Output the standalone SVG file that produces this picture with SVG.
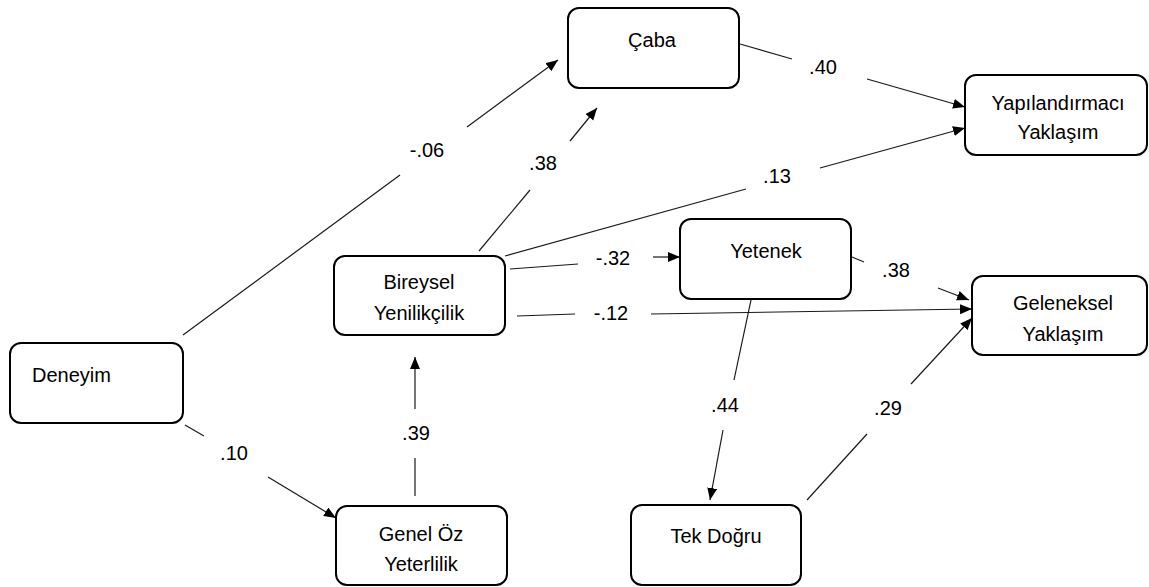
<svg xmlns="http://www.w3.org/2000/svg" width="1149" height="587" viewBox="0 0 1149 587">
<style>
.box{fill:#fff;stroke:#000;stroke-width:2}
.t{font-family:"Liberation Sans",Arial,sans-serif;font-size:20px;fill:#000;text-anchor:middle}
.ln{fill:none;stroke:#1a1a1a;stroke-width:1.2}
</style>
<defs>
<marker id="ah" markerUnits="userSpaceOnUse" markerWidth="14" markerHeight="12" refX="12" refY="5" orient="auto">
<path d="M0,0 L12,5 L0,10 z" fill="#000"/>
</marker>
</defs>
<rect width="1149" height="587" fill="#fff"/>
<g id="connectors">
<path class="ln" d="M183,335 L400,175"/><path class="ln" d="M467,127 L558,60" marker-end="url(#ah)"/>
<text class="t" x="427" y="157">-.06</text>
<path class="ln" d="M479,251 L530,190"/><path class="ln" d="M570,141 L597,108" marker-end="url(#ah)"/>
<text class="t" x="543" y="170">.38</text>
<path class="ln" d="M740,44 L792,59"/><path class="ln" d="M867,79 L965,107" marker-end="url(#ah)"/>
<text class="t" x="823" y="74">.40</text>
<path class="ln" d="M505,256 L746,189"/><path class="ln" d="M820,168 L965,128" marker-end="url(#ah)"/>
<text class="t" x="777" y="183">.13</text>
<path class="ln" d="M510,269 L578,264"/><path class="ln" d="M653,257 L680,257" marker-end="url(#ah)"/>
<text class="t" x="613" y="265">-.32</text>
<path class="ln" d="M517,316 L575,314"/><path class="ln" d="M651,314 L972,309" marker-end="url(#ah)"/>
<text class="t" x="611" y="320">-.12</text>
<path class="ln" d="M852,257 L864,262"/><path class="ln" d="M938,288 L969,300" marker-end="url(#ah)"/>
<text class="t" x="896" y="277">.38</text>
<path class="ln" d="M751,300 L734,380"/><path class="ln" d="M723,430 L710,500" marker-end="url(#ah)"/>
<text class="t" x="725" y="412">.44</text>
<path class="ln" d="M807,500 L867,434"/><path class="ln" d="M911,384 L972,318" marker-end="url(#ah)"/>
<text class="t" x="888" y="415">.29</text>
<path class="ln" d="M185,425 L204,436"/><path class="ln" d="M268,477 L336,518" marker-end="url(#ah)"/>
<text class="t" x="234" y="460">.10</text>
<path class="ln" d="M415,496 L415,458"/><path class="ln" d="M415,409 L415,357" marker-end="url(#ah)"/>
<text class="t" x="416" y="440">.39</text>
</g>
<g id="caba"><rect class="box" x="568" y="8" width="171" height="80" rx="11"/><text class="t" x="652" y="47">Çaba</text></g>
<g id="yapilandirmaci"><rect class="box" x="965" y="75" width="182" height="80" rx="11"/><text class="t" x="1058" y="110">Yapılandırmacı</text><text class="t" x="1058" y="139">Yaklaşım</text></g>
<g id="yetenek"><rect class="box" x="680" y="219" width="171" height="80" rx="11"/><text class="t" x="766" y="258">Yetenek</text></g>
<g id="geleneksel"><rect class="box" x="972" y="276" width="175" height="79" rx="11"/><text class="t" x="1063" y="310">Geleneksel</text><text class="t" x="1063" y="341">Yaklaşım</text></g>
<g id="bireysel"><rect class="box" x="334" y="256" width="171" height="79" rx="11"/><text class="t" x="419" y="289">Bireysel</text><text class="t" x="419" y="320">Yenilikçilik</text></g>
<g id="deneyim"><rect class="box" x="10" y="343" width="173" height="80" rx="11"/><text class="t" x="32" y="382" style="text-anchor:start">Deneyim</text></g>
<g id="genel"><rect class="box" x="336" y="506" width="171" height="79" rx="11"/><text class="t" x="421" y="541">Genel Öz</text><text class="t" x="421" y="571">Yeterlilik</text></g>
<g id="tekdogru"><rect class="box" x="631" y="505" width="170" height="80" rx="11"/><text class="t" x="716" y="543">Tek Doğru</text></g>
</svg>
